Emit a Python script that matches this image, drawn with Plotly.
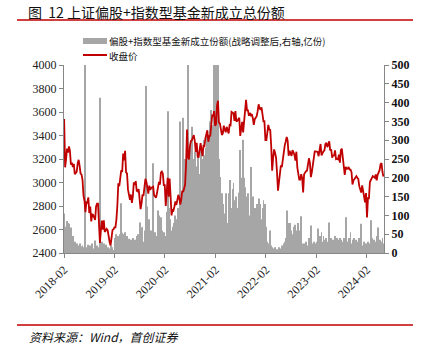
import pandas as pd
import plotly.graph_objects as go

# ---- data (weekly samples) ----
start_date = "2018-02-02"

close_2018 = [3540, 3129, 3199, 3289,
              3254, 3307, 3269, 3152, 3169,
              3131, 3159, 3071, 3082,
              3092, 3163, 3193, 3141,
              3075, 3067, 3022, 2889, 2847,
              2747, 2831, 2829, 2873,
              2740, 2795, 2669, 2729, 2725,
              2702, 2681, 2797, 2821,
              2821, 2606, 2486, 2598,
              2676, 2599, 2679, 2579, 2588,
              2605, 2593, 2516, 2494]
close_2019 = [2464, 2553, 2596, 2601,
              2618, 2618, 2682, 2804,
              2994, 2969, 3021, 3104, 3090,
              3247, 3189, 3270, 3086,
              3078, 2939, 2882, 2852, 2898,
              2827, 2882, 3001, 2979,
              3011, 2930, 2924, 2944,
              2868, 2774, 2823, 2897, 2886,
              2999, 3031, 3006, 2932,
              2905, 2973, 2938, 2954,
              2958, 2964, 2891, 2885, 2872,
              2912, 2968, 3005, 2981]
close_2020 = [3083, 3092, 3075, 2977, 2977,
              2800, 2917, 3039, 2880,
              3034, 2887, 2720, 2772,
              2764, 2796, 2839, 2809,
              2860, 2895, 2868, 2813, 2852,
              2930, 2920, 2967, 2980,
              3152, 3451, 3214, 3197, 3310,
              3354, 3360, 3380, 3404,
              3355, 3260, 3338, 3219,
              3218, 3272, 3336, 3278, 3225,
              3312, 3310, 3378, 3408,
              3444, 3347, 3395, 3397]
close_2021 = [3473, 3570, 3566, 3607, 3483,
              3496, 3655, 3696, 3509,
              3502, 3454, 3405, 3418,
              3484, 3451, 3427, 3474, 3447,
              3418, 3490, 3487, 3601,
              3592, 3590, 3525, 3607,
              3519, 3525, 3539, 3550, 3397,
              3458, 3517, 3427, 3522,
              3581, 3703, 3613, 3613,
              3568, 3592, 3572, 3582, 3547,
              3491, 3539, 3560, 3564,
              3607, 3666, 3632, 3618, 3640]
close_2022 = [3580, 3521, 3522, 3361,
              3361, 3462, 3491, 3451,
              3448, 3309, 3100, 3212,
              3282, 3252, 3211, 3087, 2930,
              3001, 3084, 3146, 3131,
              3195, 3285, 3316, 3350,
              3388, 3356, 3228, 3270, 3253,
              3227, 3276, 3258, 3236,
              3186, 3262, 3126, 3088, 3024,
              3024, 3071, 3038, 2916,
              3070, 3087, 3097, 3101,
              3156, 3206, 3167, 3045, 3089]
close_2023 = [3157, 3195, 3265, 3265,
              3263, 3260, 3224, 3267,
              3328, 3230, 3250, 3266, 3273,
              3327, 3338, 3301, 3323,
              3350, 3272, 3283, 3212,
              3230, 3231, 3273, 3198, 3202,
              3197, 3237, 3168, 3276,
              3288, 3189, 3131, 3064,
              3133, 3116, 3117, 3132, 3110,
              3110, 3088, 2983, 3017,
              3030, 3038, 3054, 3040,
              3031, 2969, 2942, 2914, 2975]
close_2024 = [2929, 2882, 2832, 2910,
              2702, 2866, 2866, 3004,
              3027, 3046, 3054, 3048, 3041,
              3069, 3019, 3065, 3088,
              3105, 3154, 3166, 3089, 3050]

shares = [105, 70, 60, 85, 80, 78, 40, 68, 33, 45, 25, 30, 20,
          25, 20, 15, 25, 18, 12, 20, 15, 10, 510, 15, 12, 22,
          10, 20, 15, 25, 12, 10, 33, 15, 20, 12, 15, 413, 20,
          30, 18, 25, 15, 22, 10, 15, 12, 8, 20, 10, 15, 8,
          12, 40, 50, 35, 45, 33, 50, 132, 54, 50, 48, 55, 40,
          45, 30, 38, 25, 35, 30, 40, 28, 35, 30, 45, 50, 40,
          81, 68, 50, 70, 30, 20, 60, 444, 124, 52, 90, 60, 35,
          60, 239, 40, 55, 30, 45, 113, 100, 86, 95, 60, 40, 55,
          30, 45, 110, 377, 120, 90, 60, 50, 70, 80, 60, 100, 75,
          90, 120, 80, 350, 100, 150, 360, 175, 250, 240, 290, 510, 260,
          230, 293, 336, 250, 200, 270, 180, 230, 266, 190, 210, 283, 230,
          250, 301, 260, 230, 280, 320, 300, 260, 350, 380, 290, 340, 510,
          330, 510, 300, 510, 250, 202, 113, 159, 130, 105, 60, 159, 80,
          60, 159, 194, 150, 120, 170, 186, 140, 100, 150, 120, 80, 160,
          274, 200, 175, 301, 200, 175, 132, 150, 159, 100, 51, 229, 140,
          150, 110, 120, 90, 130, 100, 145, 110, 130, 90, 120, 140, 100,
          130, 70, 30, 20, 25, 60, 20, 15, 10, 12, 15, 10, 8,
          10, 15, 8, 12, 20, 15, 25, 30, 40, 113, 60, 80, 50,
          80, 60, 50, 70, 40, 75, 60, 50, 80, 60, 30, 98, 25,
          20, 25, 15, 30, 20, 15, 40, 35, 73, 25, 20, 30, 15,
          25, 30, 65, 35, 45, 40, 55, 30, 45, 25, 35, 40, 20,
          30, 81, 35, 40, 25, 35, 30, 45, 28, 40, 35, 30, 40,
          35, 25, 30, 40, 25, 95, 30, 25, 40, 30, 55, 25, 35,
          30, 40, 25, 35, 30, 20, 40, 25, 78, 15, 20, 30, 25,
          20, 25, 30, 15, 25, 87, 40, 30, 35, 25, 30, 45, 68,
          30, 35, 25, 30, 40, 25]

close = close_2018 + close_2019 + close_2020 + close_2021 + close_2022 + close_2023 + close_2024
dates = pd.date_range(start_date, periods=len(close), freq="7D")

x_ticks = ["2018-02-01", "2019-02-01", "2020-02-01", "2021-02-01",
           "2022-02-01", "2023-02-01", "2024-02-01"]
x_labels = ["2018-02", "2019-02", "2020-02", "2021-02", "2022-02", "2023-02", "2024-02"]

title_text = "图  12 上证偏股+指数型基金新成立总份额"
bar_name = "偏股+指数型基金新成立份额(战略调整后,右轴,亿份)"
line_name = "收盘价"
source_text = "资料来源：Wind，首创证券"

# ---- figure ----
W, H = 432, 356
L, R, T, B = 64, 48, 65, 103
PW, PH = W - L - R, H - T - B


def px(x):
    return (x - L) / PW


def py(y):
    return (H - B - y) / PH


RED = "#c00000"
GRAY = "#a6a6a6"
AX = "#868686"
SERIF = "Liberation Serif, Times New Roman, serif"
CJK = "Noto Sans CJK SC, sans-serif"

fig = go.Figure()
fig.add_trace(go.Bar(x=dates, y=shares[:len(dates)], name=bar_name, marker=dict(color=GRAY, line=dict(width=0)),
                     yaxis="y", showlegend=False))
fig.add_trace(go.Scatter(x=dates, y=close, name=line_name, mode="lines",
                         line=dict(color=RED, width=1.8), yaxis="y2", showlegend=False))

fig.update_layout(
    width=W, height=H,
    margin=dict(l=L, r=R, t=T, b=B),
    paper_bgcolor="white", plot_bgcolor="white",
    bargap=0.1,
    xaxis=dict(type="date", range=["2018-02-01", "2024-06-04"],
               tickvals=x_ticks, ticktext=x_labels, tickangle=-45,
               showgrid=False, showline=True, linecolor=AX, linewidth=1,
               ticks="outside", ticklen=4, tickcolor=AX, automargin=False,
               tickfont=dict(family=SERIF, size=12, color="#222")),
    yaxis=dict(side="right", range=[0, 500], dtick=50, showgrid=False,
               showline=True, linecolor=AX, linewidth=1, automargin=False,
               ticks="outside", ticklen=4, tickcolor=AX, zeroline=False,
               tickfont=dict(family=SERIF, size=12, color="#111", weight="bold")),
    yaxis2=dict(side="left", overlaying="y", range=[2400, 4000], dtick=200, showgrid=False,
                showline=True, linecolor=AX, linewidth=1, automargin=False,
                ticks="outside", ticklen=4, tickcolor=AX, zeroline=False,
                tickfont=dict(family=SERIF, size=12, color="#222")),
)

shapes = [
    dict(type="line", xref="paper", yref="paper", x0=px(17), x1=px(413), y0=py(20), y1=py(20),
         line=dict(color=RED, width=1.5)),
    dict(type="line", xref="paper", yref="paper", x0=px(17), x1=px(413), y0=py(325), y1=py(325),
         line=dict(color=RED, width=1.5)),
    dict(type="rect", xref="paper", yref="paper", x0=px(83), x1=px(107), y0=py(44), y1=py(38),
         fillcolor=GRAY, line=dict(width=0)),
    dict(type="line", xref="paper", yref="paper", x0=px(83), x1=px(107), y0=py(55), y1=py(55),
         line=dict(color=RED, width=2)),
]
fig.update_layout(shapes=shapes)

ann = [
    dict(text=title_text, x=px(27), y=py(12), xanchor="left", yanchor="middle",
         font=dict(family=CJK, size=14, color="#111")),
    dict(text=bar_name, x=px(108), y=py(41), xanchor="left", yanchor="middle",
         font=dict(family=CJK, size=9.5, color="#111")),
    dict(text=line_name, x=px(108), y=py(55.5), xanchor="left", yanchor="middle",
         font=dict(family=CJK, size=9.5, color="#111")),
    dict(text="<i>" + source_text + "</i>", x=px(28), y=py(336), xanchor="left", yanchor="middle",
         font=dict(family=CJK, size=12, color="#111")),
]
for a in ann:
    a.update(xref="paper", yref="paper", showarrow=False, borderpad=0)
fig.update_layout(annotations=ann)

fig.write_html("out.html", config={"displayModeBar": False},
               post_script="document.body.style.margin='0px';document.body.style.padding='0px';")
